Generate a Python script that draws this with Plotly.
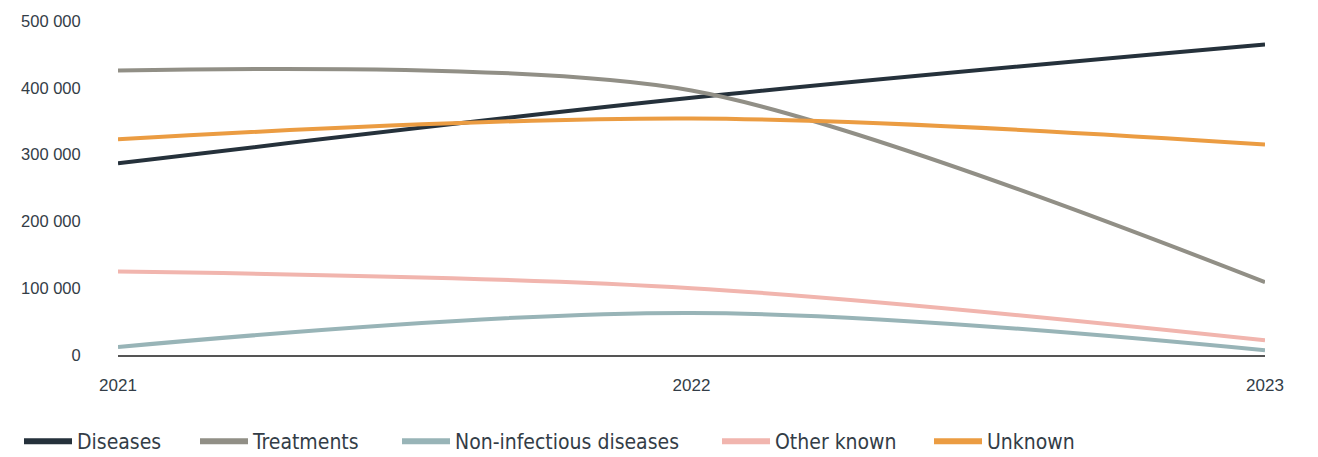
import plotly.graph_objects as go

years = [2021, 2022, 2023]

diseases = [287000, 385000, 465000]
treatments = [426000, 396000, 109000]
non_infectious = [12000, 63000, 7000]
other_known = [125000, 100000, 22000]
unknown = [323000, 354000, 315000]

series = [
    ("Diseases", diseases, "#25313b", 1.0),
    ("Treatments", treatments, "#918f86", 0.8),
    ("Non-infectious diseases", non_infectious, "#98b4b7", 1.0),
    ("Other known", other_known, "#f1b5ae", 1.0),
    ("Unknown", unknown, "#eb9c42", 1.0),
]

tick_vals = [0, 100000, 200000, 300000, 400000, 500000]
tick_text = ["0", "100 000", "200 000", "300 000", "400 000", "500 000"]

# left edge (px) of each legend entry along the bottom row
legend_x_px = [19, 195, 397, 717, 929]
W, H = 1318, 457

fig = go.Figure()
for i, (name, vals, color, smooth) in enumerate(series):
    legend_id = "legend" if i == 0 else f"legend{i + 1}"
    fig.add_trace(go.Scatter(
        x=years, y=vals, name=name, mode="lines", showlegend=False,
        line=dict(color=color, width=4, shape="spline", smoothing=smooth),
    ))
    # legend-only entry with a heavier swatch
    fig.add_trace(go.Scatter(
        x=[None], y=[None], name=name, mode="lines", legend=legend_id,
        line=dict(color=color, width=6),
    ))

legend_font = dict(family="DejaVu Sans Condensed, Liberation Sans Narrow, sans-serif",
                   size=21, color="#333d47")
layout_legends = {}
for i, xp in enumerate(legend_x_px):
    key = "legend" if i == 0 else f"legend{i + 1}"
    layout_legends[key] = dict(
        orientation="h", xref="container", yref="container",
        x=xp / W, y=1 - 421 / H, xanchor="left", yanchor="top",
        font=legend_font, itemwidth=48, bgcolor="rgba(0,0,0,0)",
    )

fig.update_layout(
    width=W, height=H,
    margin=dict(l=118, r=53, t=19, b=102),
    paper_bgcolor="white", plot_bgcolor="white",
    font=dict(family="Liberation Sans, Arial, sans-serif", color="#333d47", size=17),
    showlegend=True,
    xaxis=dict(
        range=[2021, 2023], tickvals=years, ticktext=[str(y) for y in years],
        showgrid=False, zeroline=False,
        showline=True, linecolor="#555555", linewidth=1.5,
        ticks="outside", ticklen=14, tickcolor="rgba(0,0,0,0)",
        tickfont=dict(size=17),
    ),
    yaxis=dict(
        range=[0, 500000], tickvals=tick_vals, ticktext=tick_text,
        showgrid=False, zeroline=False, showline=False,
        ticks="outside", ticklen=33, tickcolor="rgba(0,0,0,0)",
        tickfont=dict(size=16.5),
    ),
    **layout_legends,
)

fig.write_html("out.html")
